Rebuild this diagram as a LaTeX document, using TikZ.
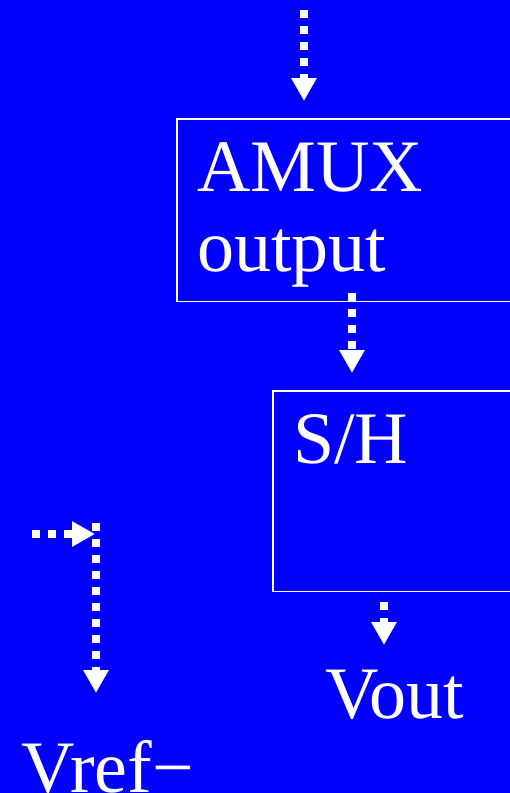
\documentclass[tikz,border=0pt]{standalone}
\usepackage{fontspec}
\setmainfont{Liberation Serif}
\usetikzlibrary{arrows.meta}
\definecolor{bg}{RGB}{0,0,255}
\tikzset{
  flow/.style={white, line width=8pt, dash pattern=on 8pt off 8pt, -{Triangle[width=24pt,length=23pt]}},
  blockbox/.style={draw=white, line width=1.8pt, anchor=north west, inner sep=0pt},
  big/.style={text=white, anchor=base west, inner sep=0pt, font=\fontsize{74}{80}\selectfont}
}
\begin{document}
\begin{tikzpicture}[x=1pt,y=-1pt]
\useasboundingbox (0,0) rectangle (510,793);
\fill[bg] (0,0) rectangle (510,793);
\clip (0,0) rectangle (510,793);
% boxes
\node[blockbox, minimum width=400pt, minimum height=182.5pt] (amux) at (176,118) {};
\node[blockbox, minimum width=400pt, minimum height=200.5pt] (sh) at (272,390) {};
% texts
\node[big] (t1) at (197,191) {AMUX};
\node[big] (t2) at (197,271) {output};
\node[big] (t3) at (293,463) {S/H};
\node[big] (vout) at (325,718) {Vout};
\node[big] (vref) at (21,792) {Vref−};
% connector coordinates
\coordinate (a0) at (304,10);
\coordinate (a1) at (304,101);
\coordinate (b0) at (352,293);
\coordinate (b1) at (352,373);
\coordinate (c0) at (384,602);
\coordinate (c1) at (384,645);
\coordinate (h0) at (32,534);
\coordinate (h1) at (95,534);
\coordinate (v0) at (96,523);
\coordinate (v1) at (96,693);
% connectors
\draw[flow] (a0) -- (a1);
\draw[flow] (b0) -- (b1);
\draw[flow] (c0) -- (c1);
\draw[flow] (h0) -- (h1);
\draw[flow] (v0) -- (v1);
\end{tikzpicture}
\end{document}
